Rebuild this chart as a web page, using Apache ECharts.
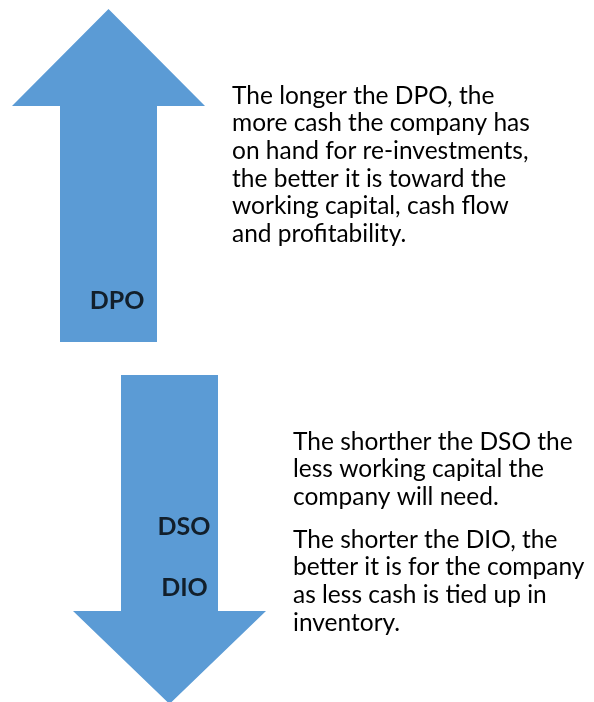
<!DOCTYPE html>
<html>
<head>
<meta charset="utf-8">
<script src="https://cdn.jsdelivr.net/npm/echarts@6/dist/echarts.min.js"></script>
<style>
  html, body { margin: 0; padding: 0; background: #fff; }
  #chart { width: 594px; height: 702px; }
</style>
</head>
<body>
<div id="chart"></div>
<script>
// arrows: [centre x, tail y, head base y, tip y] in axis units
const arrowUp = [108.5, 342, 106, 9]
const arrowDown = [169.5, 375, 611, 704]

// labels inside the arrows
const labelNames = ['DPO', 'DSO', 'DIO']
const labelPoints = [[117, 301], [184, 527], [184.5, 588]]

// explanatory text
const upText = [
  'The longer the DPO, the',
  'more cash the company has',
  'on hand for re-investments,',
  'the better it is toward the',
  'working capital, cash flow',
  'and profitability.'
]
const downTextDso = [
  'The shorther the DSO the',
  'less working capital the',
  'company will need.'
]
const downTextDio = [
  'The shorter the DIO, the',
  'better it is for the company',
  'as less cash is tied up in',
  'inventory.'
]

const BLUE = '#5B9BD5'
const FONT = 'Lato, "Open Sans", sans-serif'

const chart = echarts.init(document.getElementById('chart'))

function renderArrow (params, api) {
  const cx = api.value(0)
  const tail = api.coord([cx, api.value(1)])
  const base = api.coord([cx, api.value(2)])
  const tip = api.coord([cx, api.value(3)])
  const shaftHalf = 48.5
  const headHalf = 96.5
  const x = tail[0]
  return {
    type: 'polygon',
    shape: {
      points: [
        [x - shaftHalf, tail[1]],
        [x - shaftHalf, base[1]],
        [x - headHalf, base[1]],
        [x, tip[1]],
        [x + headHalf, base[1]],
        [x + shaftHalf, base[1]],
        [x + shaftHalf, tail[1]]
      ]
    },
    style: { fill: BLUE }
  }
}

function paragraph (lines, left, top) {
  return {
    type: 'text',
    left: left,
    top: top,
    style: {
      text: lines.join('\n'),
      font: '24.5px ' + FONT,
      fill: '#000',
      lineHeight: 27.6
    }
  }
}

chart.setOption({
  animation: false,
  grid: { left: 0, right: 0, top: 0, bottom: 0 },
  xAxis: { type: 'value', min: 0, max: 594, show: false },
  yAxis: { type: 'value', min: 0, max: 702, inverse: true, show: false },
  series: [
    {
      type: 'custom',
      renderItem: renderArrow,
      data: [arrowUp, arrowDown],
      silent: true
    },
    {
      type: 'scatter',
      symbolSize: 0,
      data: labelNames.map((n, i) => ({ name: n, value: labelPoints[i] })),
      label: {
        show: true,
        position: 'inside',
        formatter: '{b}',
        color: '#000',
        fontFamily: FONT,
        fontWeight: 'bold',
        fontSize: 25
      },
      silent: true
    }
  ],
  graphic: [
    paragraph(upText, 232, 82),
    paragraph(downTextDso, 293, 428),
    paragraph(downTextDio, 293, 526)
  ]
})
</script>
</body>
</html>
